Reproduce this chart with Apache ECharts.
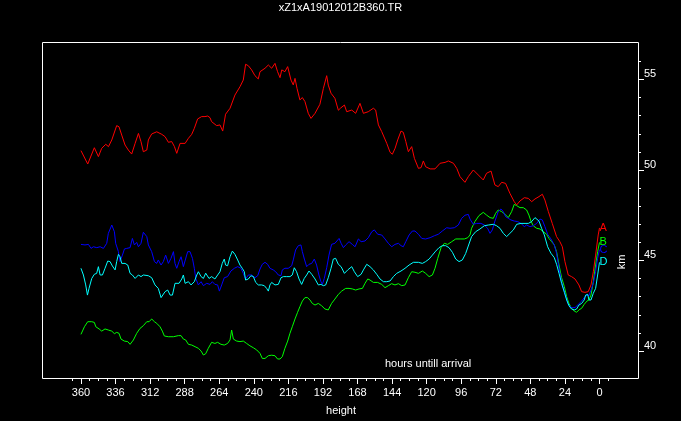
<!DOCTYPE html>
<html><head><meta charset="utf-8">
<script src="https://cdn.jsdelivr.net/npm/echarts@6/dist/echarts.min.js"></script>
<style>html,body{margin:0;padding:0;background:#000;}#c{width:681px;height:421px;}</style>
</head><body><div id="c"></div>
<script>
// ---- Texts ----
const chartTitle = 'xZ1xA19012012B360.TR';
const xAxisTitle = 'height';
const yAxisTitle = 'km';
const noteText = 'hours untill arrival';
const seriesNames = ['A', 'B', 'C', 'D'];

// ---- Axes (hours before arrival, km) ----
const xLabelTicks = { min: 0, max: 360, step: 24 };
const xMinorTicks = { min: -6, max: 366, step: 6 };
const yLabelTicks = { min: 40, max: 55, step: 5 };
const yMinorTicks = { min: 40, max: 56, step: 1 };
const xExtent = [-26.73, 387.05];
const yExtent = [38.51, 57.07];

// ---- Series values: [hours until arrival, km] ----
const seriesA = [
[360,51.07],[355.3,50.33],[350.7,51.23],[347.9,50.74],[345.6,51.2],[342.8,51.42],[340.9,51.29],[338.6,51.66],
[335.2,52.45],[333.6,52.39],[331.7,51.93],[329.4,51.38],[327.1,51.1],[324.8,50.88],[322.4,51.47],[320.1,52.02],
[318.3,51.56],[316.7,51.01],[314.3,51.1],[313.2,51.66],[310.9,51.99],[307.4,52.11],[303.9,51.97],[301.6,51.84],
[299.3,51.53],[297.0,51.57],[295.1,51.29],[293.5,50.92],[291.2,51.47],[287.7,51.47],[285.4,51.75],[283.1,51.97],
[281.3,52.3],[279.0,52.82],[276.2,52.95],[273.9,52.95],[272.0,52.98],[270.4,52.89],[269.3,52.67],[265.8,52.45],
[263.5,52.49],[261.6,52.15],[259.6,53.08],[256.5,53.41],[253.1,54.14],[249.6,54.6],[247.3,54.97],[245.7,55.84],
[243.8,55.76],[241.5,55.53],[239.2,55.21],[236.9,55.03],[235.7,55.43],[232.2,55.62],[229.9,55.8],[227.6,55.62],
[225.3,55.89],[223.5,55.43],[221.8,55.1],[220.6,55.53],[218.4,55.43],[216.5,55.71],[214.2,54.97],[212.6,54.7],
[211.4,55.06],[210.0,54.51],[208.0,53.87],[206.3,54.0],[204.5,53.78],[202.2,53.13],[200.3,52.85],[197.5,53.13],
[194.1,53.63],[191.7,54.51],[189.4,55.21],[188.3,54.69],[186.4,54.24],[183.7,53.96],[181.3,53.3],[179.9,53.41],
[177.1,53.59],[175.5,53.22],[172.0,53.31],[169.3,53.13],[166.3,53.68],[163.9,53.13],[160.5,53.22],[157.0,53.41],
[155.4,53.31],[153.5,52.49],[151.2,52.12],[147.7,51.47],[145.4,50.98],[143.8,50.87],[141.9,51.2],[140.1,51.66],
[137.8,52.15],[136.2,52.08],[134.5,51.58],[132.7,51.01],[130.4,51.29],[128.5,50.64],[125.7,50.09],[123.9,50.13],
[122.3,50.5],[120.7,50.18],[117.6,50.06],[114.2,50.06],[110.7,50.37],[107.2,50.42],[104.9,50.5],[101.4,50.37],
[99.1,50.09],[96.8,49.63],[93.4,49.32],[91.1,49.63],[89.9,49.63],[87.6,50.0],[84.1,49.72],[80.7,49.45],
[78.4,49.82],[75.3,49.94],[72.6,49.17],[70.3,49.08],[67.9,49.32],[65.2,49.26],[62.2,48.71],[59.2,48.25],
[57.5,48.07],[55.2,48.29],[52.2,48.47],[49.4,48.43],[47.1,48.25],[44.8,48.4],[42.0,48.53],[39.7,48.66],
[37.9,48.34],[35.5,47.7],[32.8,47.05],[29.8,46.32],[27.5,46.04],[25.8,45.76],[24.0,44.94],[21.7,44.2],
[19.4,44.11],[17.0,43.98],[14.3,43.65],[12.4,43.28],[10.1,43.24],[7.8,43.28],[5.9,43.65],[4.3,44.38],
[2.7,45.3],[0.9,46.41],[0,46.8]
];
const seriesB = [
[360,40.92],[357.6,41.34],[355.3,41.62],[352.5,41.62],[350.7,41.58],[349.7,41.34],[347.4,41.22],[345.6,41.1],
[343.3,41.22],[341.0,41.16],[338.6,41.1],[336.8,40.96],[335.2,41.03],[333.6,40.98],[332.2,40.66],[329.9,40.55],
[327.5,40.52],[325.9,40.37],[323.6,40.61],[321.3,40.98],[319.0,41.25],[316.7,41.4],[314.3,41.62],[312.7,41.62],
[310.9,41.77],[309.0,41.62],[307.4,41.53],[305.1,41.34],[303.5,41.1],[302.1,40.83],[299.3,40.79],[295.8,40.79],
[292.4,40.85],[290.5,40.85],[288.9,40.66],[287.3,40.61],[285.4,40.37],[283.1,40.33],[280.8,40.24],[278.5,40.15],
[276.6,40.0],[275.0,39.78],[273.4,39.85],[271.6,40.15],[269.3,40.48],[267.0,40.42],[265.1,40.48],[262.8,40.37],
[260.5,40.33],[258.2,40.42],[256.5,40.61],[255.4,41.16],[254.2,40.66],[251.9,40.55],[249.6,40.52],[247.3,40.55],
[245.0,40.42],[242.7,40.29],[240.3,40.18],[238.0,40.06],[235.7,39.87],[234.1,39.59],[232.2,39.59],[229.9,39.74],
[227.6,39.77],[225.3,39.74],[223.5,39.56],[221.8,39.56],[220.2,39.69],[218.4,40.15],[216.5,40.55],[214.9,40.98],
[213.3,41.34],[211.4,41.77],[209.6,42.14],[208.0,42.45],[206.3,42.76],[204.5,42.95],[202.7,42.95],[201.0,42.82],
[199.4,42.63],[197.5,42.54],[195.2,42.63],[192.9,42.5],[190.6,42.32],[188.3,42.27],[186.0,42.63],[183.7,42.87],
[181.3,43.13],[179.0,43.31],[176.2,43.46],[173.9,43.46],[171.6,43.43],[169.3,43.37],[166.9,43.43],[164.6,43.46],
[162.8,43.74],[160.9,43.98],[159.3,43.92],[157.0,43.79],[154.0,43.79],[151.2,43.68],[148.9,43.5],[146.6,43.61],
[144.3,43.72],[142.0,43.65],[139.6,43.72],[137.3,43.61],[135.0,43.65],[132.7,44.05],[130.4,44.38],[128.1,44.35],
[125.7,44.29],[123.0,44.42],[120.7,44.29],[118.3,44.11],[116.0,44.2],[114.2,44.57],[112.3,45.12],[110.0,45.71],
[107.7,45.95],[105.4,45.89],[102.6,46.04],[99.8,46.19],[96.8,46.19],[93.8,46.19],[91.5,46.26],[89.9,46.41],
[88.8,46.78],[86.5,47.15],[83.7,47.48],[80.7,47.66],[78.4,47.51],[76.0,47.37],[73.7,47.33],[72.1,47.61],
[70.3,47.79],[67.9,47.7],[65.6,47.55],[63.3,47.37],[61.0,47.7],[59.2,48.1],[57.5,48.03],[55.2,47.92],
[52.9,47.92],[50.6,47.79],[49.0,47.51],[47.6,47.18],[46.0,46.92],[43.6,46.78],[41.3,46.74],[39.0,46.59],
[36.7,46.45],[35.1,46.22],[33.2,46.04],[31.4,45.86],[29.8,45.49],[28.1,44.75],[26.3,44.05],[24.4,43.55],
[22.8,43.0],[21.2,42.63],[19.4,42.36],[17.5,42.21],[15.9,42.14],[14.3,42.27],[12.4,42.36],[10.6,42.58],
[8.7,42.76],[7.3,42.82],[5.9,43.09],[4.3,43.83],[2.7,44.75],[1.3,45.49],[0,46.0]
];
const seriesC = [
[360,45.89],[357.2,45.86],[354.8,45.89],[353.0,45.67],[351.4,45.76],[349.0,45.71],[346.7,45.76],[344.4,45.67],
[342.1,45.95],[341.0,46.5],[338.6,46.96],[336.8,46.59],[335.9,45.95],[334.0,45.49],[332.9,44.94],[331.2,45.3],
[329.8,45.64],[328.2,45.67],[325.9,45.71],[324.3,46.22],[322.9,45.86],[321.3,46.0],[320.1,45.76],[318.3,45.95],
[316.7,46.56],[314.3,46.32],[313.2,45.86],[310.9,45.49],[309.0,44.94],[307.4,44.84],[306.3,45.03],[304.4,44.75],
[302.8,44.94],[301.2,45.3],[299.3,44.84],[297.5,45.12],[295.8,45.49],[294.7,44.84],[293.5,44.57],[291.9,44.94],
[290.5,45.21],[288.9,44.66],[287.7,44.57],[285.9,45.49],[284.3,45.49],[282.6,45.12],[281.3,44.57],[280.3,44.01],
[278.5,43.65],[276.6,43.83],[275.0,43.61],[272.7,43.74],[270.4,43.68],[268.8,43.83],[267.0,43.68],[265.1,43.65],
[263.9,43.31],[262.3,43.65],[260.5,44.05],[258.2,44.11],[255.9,44.42],[253.5,44.57],[251.2,44.66],[248.9,44.57],
[247.3,44.29],[245.7,43.98],[243.8,44.2],[241.5,44.2],[239.2,44.05],[237.3,44.16],[235.7,44.53],[234.1,44.79],
[232.2,44.9],[230.4,44.79],[228.8,44.57],[226.5,44.48],[224.8,44.38],[223.0,44.2],[221.1,44.16],[220.2,44.48],
[218.4,44.57],[216.1,44.57],[213.7,44.71],[212.6,45.03],[211.0,45.58],[209.1,45.82],[207.3,45.86],[206.3,45.49],
[204.9,45.08],[203.3,44.66],[201.7,44.79],[199.8,44.84],[198.0,45.08],[196.4,44.75],[194.8,44.2],[193.4,43.83],
[192.4,43.68],[191.1,44.0],[189.4,44.6],[187.8,45.3],[186.0,45.89],[183.7,45.95],[182.4,45.95],[180.8,46.22],
[179.4,45.95],[177.8,45.71],[176.2,45.86],[173.9,46.04],[171.6,45.89],[169.7,45.76],[167.4,46.19],[165.5,46.04],
[162.8,46.08],[160.5,46.26],[158.1,46.59],[156.3,46.69],[154.0,46.45],[151.2,46.41],[148.9,46.19],[146.6,45.95],
[144.3,45.76],[142.0,45.89],[139.6,45.95],[137.8,45.82],[136.2,45.76],[134.5,46.04],[132.2,46.41],[129.9,46.63],
[128.1,46.63],[125.7,46.45],[123.4,46.22],[120.7,46.19],[117.6,46.26],[114.6,46.37],[111.9,46.45],[109.1,46.63],
[106.1,46.81],[103.8,46.78],[100.8,46.81],[98.0,46.96],[95.7,47.33],[93.4,47.5],[91.1,47.55],[89.9,47.29],
[87.6,47.0],[85.3,47.05],[82.3,47.05],[80.0,46.96],[77.7,46.78],[76.0,46.5],[74.4,46.69],[72.6,47.18],
[70.3,47.7],[68.4,47.85],[66.8,47.7],[65.2,47.42],[63.3,47.33],[61.5,47.24],[59.2,47.18],[56.8,47.15],
[54.5,47.05],[52.2,46.87],[50.6,46.96],[48.3,46.87],[46.0,46.92],[43.6,47.05],[41.3,47.29],[39.7,47.24],
[37.9,46.87],[36.0,46.45],[33.7,46.19],[31.4,45.86],[29.8,45.4],[28.1,44.57],[26.3,43.83],[24.0,43.19],
[21.7,42.58],[19.4,42.4],[17.0,42.4],[14.7,42.58],[12.4,42.76],[10.6,42.95],[8.9,43.09],[7.3,43.06],
[5.9,43.37],[4.3,43.74],[2.7,44.38],[1.3,45.12],[0,45.6]
];
const seriesD = [
[360,44.57],[358.3,44.2],[356.7,43.65],[355.5,43.09],[354.4,43.46],[352.5,44.01],[350.7,44.24],[349.1,44.29],
[347.9,44.66],[346.7,44.2],[345.1,44.2],[343.3,44.57],[341.4,44.97],[339.8,44.94],[338.2,44.7],[336.3,44.48],
[335.2,44.94],[334.0,45.34],[332.9,45.21],[331.7,44.84],[329.4,44.84],[327.5,44.75],[325.9,44.29],[324.3,44.2],
[322.4,44.01],[320.1,44.2],[318.3,44.11],[316.7,44.2],[313.2,44.16],[310.9,44.05],[308.6,43.65],[306.3,43.46],
[304.4,42.95],[303.5,42.91],[301.6,43.28],[299.8,43.37],[298.1,43.09],[296.5,43.09],[294.7,43.74],[293.5,43.83],
[291.9,43.74],[290.0,43.98],[288.9,44.2],[287.7,43.74],[285.4,43.83],[283.6,43.65],[281.3,43.83],[279.6,44.2],
[278.5,44.38],[276.6,44.11],[275.0,44.01],[273.4,44.3],[271.1,44.01],[269.3,44.11],[267.0,43.98],[265.1,44.2],
[263.5,44.38],[261.9,44.84],[260.5,45.08],[259.6,44.75],[258.2,44.71],[256.5,45.21],[254.9,45.52],[253.1,45.34],
[251.2,45.03],[249.6,44.75],[248.0,44.57],[246.6,44.38],[245.7,43.92],[243.8,43.98],[242.0,44.16],[240.3,44.11],
[238.7,43.79],[236.9,43.65],[234.6,43.65],[232.7,43.61],[231.1,43.46],[229.9,43.31],[228.8,43.65],[227.6,43.79],
[225.3,43.65],[223.0,43.68],[221.1,44.05],[219.5,44.11],[217.2,44.11],[214.9,44.11],[213.3,44.2],[211.9,44.6],
[210.3,44.38],[208.6,43.98],[206.8,43.68],[205.0,44.01],[203.3,44.2],[201.7,44.42],[199.8,44.24],[197.5,43.98],
[195.2,43.65],[193.4,43.68],[191.7,43.61],[190.1,43.65],[188.3,44.05],[186.4,44.57],[184.8,45.08],[183.2,45.12],
[181.3,44.79],[179.4,44.66],[177.1,44.29],[174.8,44.48],[172.0,44.66],[170.2,44.38],[167.9,44.11],[165.5,44.24],
[163.9,44.48],[161.6,44.79],[159.3,44.66],[157.0,44.48],[154.7,44.24],[152.4,43.98],[150.0,43.83],[147.7,43.83],
[145.4,43.87],[143.1,44.11],[140.8,44.29],[137.8,44.42],[135.0,44.57],[132.2,44.75],[129.2,44.9],[125.7,44.9],
[123.0,44.84],[120.7,44.94],[118.3,45.08],[116.0,45.3],[113.7,45.52],[111.4,45.71],[109.1,45.82],[106.8,45.82],
[104.5,45.71],[102.1,45.45],[99.8,45.08],[97.5,44.94],[95.2,45.03],[92.9,45.39],[91.1,45.8],[88.8,46.32],
[86.0,46.59],[83.0,46.74],[80.0,46.92],[77.2,46.96],[73.7,47.0],[71.4,46.92],[69.1,46.78],[66.8,46.5],
[64.5,46.32],[62.2,46.5],[59.8,46.69],[57.5,47.0],[54.5,47.05],[51.7,47.05],[49.4,47.05],[47.1,47.15],
[44.8,47.37],[43.6,47.48],[42.0,47.18],[40.2,46.78],[38.3,46.41],[36.0,45.76],[33.7,45.4],[31.4,45.16],
[29.8,44.79],[28.1,44.29],[26.3,43.74],[24.4,43.24],[22.8,42.82],[21.2,42.5],[19.4,42.32],[17.5,42.27],
[15.9,42.32],[14.3,42.54],[12.4,42.63],[10.6,42.82],[9.6,43.09],[8.2,43.13],[7.3,42.82],[5.9,42.82],
[4.3,43.19],[2.7,43.46],[1.3,44.2],[0,44.9]
];

// ---- Styles ----
const seriesColors = ['#ff0000', '#00ff00', '#0000ff', '#00ffff'];
const seriesData = [seriesA, seriesB, seriesC, seriesD];
const FONT = '"Liberation Sans", Arial, sans-serif';
const NARROW = '"Liberation Sans Narrow", "Liberation Sans", Arial, sans-serif';

const chart = echarts.init(document.getElementById('c'), null, { renderer: 'canvas' });

const hidden = { show: false };
const dummyAxis = (gi) => ({ type: 'value', gridIndex: gi, show: false, min: 0, max: 1,
  axisLine: hidden, axisTick: hidden, axisLabel: hidden, splitLine: hidden });

const option = {
  backgroundColor: '#000',
  animation: false,
  grid: [
    { left: 42, right: 43, top: 42, bottom: 43, show: false },
    { left: 72.31, right: 72.86, top: 42, bottom: 43 },
    { left: 80.96, right: 81.5, top: 42, bottom: 43 },
    { left: 42, right: 43, top: 61.4, bottom: 70 },
    { left: 42, right: 43, top: 79.5, bottom: 70 }
  ],
  xAxis: [
    { type: 'value', gridIndex: 0, min: xExtent[0], max: xExtent[1], inverse: true,
      axisLine: hidden, axisTick: hidden, axisLabel: hidden, splitLine: hidden },
    { type: 'value', gridIndex: 1, min: xMinorTicks.min, max: xMinorTicks.max, interval: xMinorTicks.step, inverse: true,
      position: 'bottom', axisLine: { show: false, onZero: false },
      axisTick: { show: true, length: 3, lineStyle: { color: '#fff', width: 1 } },
      axisLabel: hidden, splitLine: hidden },
    { type: 'value', gridIndex: 2, min: xLabelTicks.min, max: xLabelTicks.max, interval: xLabelTicks.step, inverse: true,
      position: 'bottom', axisLine: { show: false, onZero: false },
      axisTick: { show: true, length: 6, lineStyle: { color: '#fff', width: 1 } },
      axisLabel: { show: true, color: '#fff', fontFamily: NARROW, fontSize: 11, margin: 9 },
      splitLine: hidden },
    dummyAxis(3),
    dummyAxis(4)
  ],
  yAxis: [
    { type: 'value', gridIndex: 0, min: yExtent[0], max: yExtent[1],
      axisLine: hidden, axisTick: hidden, axisLabel: hidden, splitLine: hidden },
    { type: 'value', gridIndex: 3, min: yMinorTicks.min, max: yMinorTicks.max, interval: yMinorTicks.step,
      position: 'right', axisLine: { show: false, onZero: false },
      axisTick: { show: true, length: 3, lineStyle: { color: '#fff', width: 1 } },
      axisLabel: hidden, splitLine: hidden },
    { type: 'value', gridIndex: 4, min: yLabelTicks.min, max: yLabelTicks.max, interval: yLabelTicks.step,
      position: 'right', axisLine: { show: false, onZero: false },
      axisTick: { show: true, length: 6, lineStyle: { color: '#fff', width: 1 } },
      axisLabel: { show: true, color: '#fff', fontFamily: FONT, fontSize: 11, margin: 6,
        verticalAlign: 'bottom', lineHeight: 11 },
      splitLine: hidden },
    dummyAxis(1),
    dummyAxis(2)
  ],
  series: seriesData.map((d, i) => ({
    type: 'line', name: seriesNames[i], xAxisIndex: 0, yAxisIndex: 0,
    data: d, showSymbol: false, symbol: 'none', smooth: false,
    lineStyle: { color: seriesColors[i], width: 1 },
    itemStyle: { color: seriesColors[i] },
    endLabel: { show: true, formatter: seriesNames[i], color: seriesColors[i], fontFamily: FONT, fontSize: 11,
      align: 'left', verticalAlign: 'middle', distance: 0 },
    silent: true
  })),
  graphic: [
    { type: 'rect', z: 100, silent: true, shape: { x: 42.5, y: 42.5, width: 596, height: 336 },
      style: { fill: 'none', stroke: '#fff', lineWidth: 1 } },
    { type: 'text', left: 'center', top: 2, style: { text: chartTitle, fill: '#fff', font: '11px ' + FONT } },
    { type: 'text', x: 341, y: 411, style: { text: xAxisTitle, fill: '#fff', font: '11px ' + FONT, align: 'center', verticalAlign: 'middle' } },
    { type: 'text', x: 385, y: 364, style: { text: noteText, fill: '#fff', font: '11px ' + FONT, align: 'left', verticalAlign: 'middle' } },
    { type: 'text', x: 622, y: 262, rotation: Math.PI / 2, style: { text: yAxisTitle, fill: '#fff', font: '11px ' + FONT, align: 'center', verticalAlign: 'middle' } }
  ]
};
chart.setOption(option);
</script>
</body></html>
